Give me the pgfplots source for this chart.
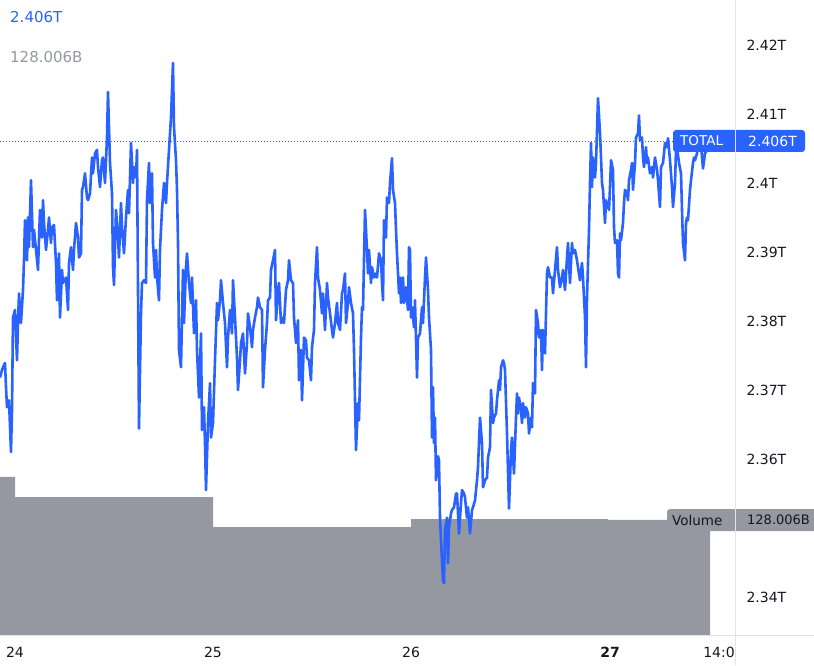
\documentclass[border=0pt]{standalone}
\usepackage{pgfplots}
\pgfplotsset{compat=1.18}
\usepackage{fontspec}
\setmainfont{DejaVu Sans}

\definecolor{tvblue}{HTML}{2962FF}
\definecolor{tvgray}{HTML}{9598A1}
\definecolor{tvtext}{HTML}{131722}
\definecolor{tvline}{HTML}{E0E3EB}

\begin{document}
\begin{tikzpicture}[x=1pt,y=1pt]
\path[use as bounding box] (0,0) rectangle (814,665);

% volume (B), one bar per day; x: chart time steps, 198 steps = 1 day
\begin{axis}[
    at={(0pt,30pt)}, anchor=south west,
    scale only axis, width=735pt, height=635pt,
    xmin=0, xmax=735, ymin=0, ymax=706.8,
    hide axis,
]
\addplot[fill=tvgray, draw=none, const plot] coordinates {
    (0,175.9) (15,153.6) (213,120.2) (411,129.1) (608,128.006) (710,128.006)
} \closedcycle;
\end{axis}

% TOTAL market cap, in B
\begin{axis}[
    at={(0pt,30pt)}, anchor=south west,
    scale only axis, width=735pt, height=635pt,
    xmin=0, xmax=735, ymin=2334.49, ymax=2426.52,
    axis line style={draw=none},
    major tick length=0pt,
    ytick={2340,2360,2370,2380,2390,2400,2410,2420},
    yticklabels={2.34T,2.36T,2.37T,2.38T,2.39T,2.4T,2.41T,2.42T},
    yticklabel pos=right,
    yticklabel style={xshift=8pt},
    xtick={15,213,411,610,723.5},
    xticklabels={24,25,26,\textbf{27},14:00},
    xticklabel style={yshift=-9pt},
    tick label style={font=\fontsize{14}{16}\selectfont, text=tvtext},
]
\addplot[tvblue, line width=0.9pt, dash pattern=on 1pt off 2pt] coordinates {(0,2406) (735,2406)};

\addplot[tvblue, line width=2.6pt, line join=round] coordinates {
(0,2371.8) (2,2372.9) (3,2373.3) (5,2373.9) (6,2370.4) (7,2367.5) (9,2368.5) (11,2361.0)
(12,2367.1) (13,2380.5) (15,2381.6) (17,2374.3) (18,2379.7) (19,2384.0) (21,2379.7) (23,2384.5)
(24,2388.8) (25,2394.6) (27,2388.8) (28,2395.0) (29,2390.7) (31,2400.4) (33,2390.7) (34,2393.2)
(36,2390.3) (38,2387.4) (40,2396.1) (42,2392.1) (43,2397.5) (44,2394.2) (46,2390.3) (48,2393.2)
(49,2395.0) (51,2391.3) (52,2393.6) (54,2393.9) (56,2388.4) (57,2383.0) (59,2389.8) (60,2380.5)
(62,2387.4) (63,2385.5) (66,2386.3) (68,2381.6) (69,2388.4) (71,2390.7) (73,2387.4) (74,2390.3)
(76,2394.2) (78,2392.1) (79,2389.2) (81,2389.8) (82,2399.0) (83,2399.4) (85,2401.4) (87,2397.9)
(88,2397.5) (90,2398.5) (92,2403.7) (93,2401.4) (95,2404.3) (97,2404.8) (98,2402.3) (100,2399.4)
(102,2403.3) (103,2403.7) (105,2400.0) (107,2406.6) (108,2413.2) (110,2402.9) (112,2398.5) (113,2387.8)
(114,2385.2) (116,2396.1) (118,2392.1) (119,2389.2) (121,2397.1) (122,2393.6) (124,2389.8) (126,2395.0)
(128,2399.0) (129,2395.6) (131,2405.8) (133,2400.0) (134,2402.3) (136,2400.8) (137,2404.8) (139,2364.4)
(141,2381.1) (142,2385.5) (144,2385.9) (146,2385.5) (147,2397.5) (149,2402.9) (150,2397.1) (152,2401.4)
(153,2391.3) (155,2386.3) (156,2390.3) (157,2386.3) (159,2383.0) (160,2390.3) (162,2396.1) (164,2400.0)
(166,2397.1) (167,2400.0) (169,2404.8) (171,2409.5) (173,2417.4) (174,2408.1) (176,2403.3) (177,2399.0)
(178,2391.3) (179,2375.8) (181,2373.3) (183,2387.4) (184,2379.7) (186,2387.8) (187,2389.8) (189,2385.5)
(191,2382.6) (192,2386.3) (194,2378.2) (196,2383.0) (197,2375.8) (199,2368.9) (201,2378.2) (202,2364.2)
(204,2367.5) (205,2362.3) (206,2355.5) (208,2365.2) (210,2371.0) (211,2363.1) (213,2365.2) (215,2374.3)
(217,2382.6) (218,2380.1) (220,2383.0) (221,2385.9) (223,2382.6) (225,2379.7) (227,2373.3) (228,2377.6)
(230,2381.6) (232,2378.2) (233,2385.9) (235,2380.5) (237,2374.7) (238,2370.0) (240,2374.3) (241,2376.8)
(243,2378.2) (245,2372.4) (247,2376.8) (248,2381.1) (250,2379.1) (252,2376.2) (253,2378.7) (255,2380.5)
(257,2382.0) (258,2383.4) (260,2382.0) (262,2381.6) (263,2370.4) (265,2375.8) (267,2379.7) (268,2383.0)
(270,2383.4) (271,2387.4) (273,2388.8) (275,2390.3) (276,2380.1) (278,2384.5) (279,2385.5) (281,2379.7)
(283,2380.5) (284,2379.7) (286,2384.5) (288,2385.9) (289,2388.8) (291,2385.9) (293,2385.5) (294,2380.5)
(296,2376.8) (298,2380.1) (299,2371.4) (301,2375.8) (302,2368.5) (304,2377.6) (306,2377.2) (307,2374.7)
(309,2374.3) (311,2371.4) (312,2376.2) (314,2378.7) (315,2385.5) (317,2390.7) (318,2386.3) (320,2384.5)
(322,2381.1) (323,2384.0) (325,2378.7) (327,2385.5) (328,2383.4) (330,2381.1) (332,2378.7) (333,2377.6)
(335,2379.7) (337,2382.6) (338,2379.7) (340,2378.7) (342,2384.0) (343,2384.5) (345,2386.9) (346,2379.7)
(348,2382.6) (349,2384.9) (351,2382.6) (353,2381.1) (354,2375.8) (356,2361.3) (358,2368.1) (359,2365.6)
(361,2377.6) (362,2382.0) (363,2381.6) (365,2396.1) (367,2390.3) (368,2386.9) (369,2390.3) (371,2385.5)
(372,2387.8) (374,2386.3) (376,2386.9) (377,2386.3) (379,2389.8) (381,2388.8) (382,2385.5) (383,2383.0)
(384,2394.6) (386,2392.1) (387,2397.9) (389,2397.1) (390,2400.0) (392,2403.6) (393,2399.0) (395,2397.1)
(396,2393.2) (397,2389.8) (399,2384.0) (400,2386.3) (401,2382.6) (403,2386.3) (404,2382.6) (406,2384.9)
(408,2381.6) (409,2390.7) (410,2390.3) (411,2380.5) (412,2382.0) (414,2379.1) (415,2383.0) (417,2371.8)
(418,2377.6) (420,2378.2) (422,2382.0) (423,2379.7) (425,2386.3) (426,2389.2) (428,2384.5) (429,2380.5)
(431,2375.8) (432,2363.1) (433,2370.4) (434,2362.3) (435,2366.0) (436,2356.9) (438,2360.4) (439,2359.8)
(440,2351.5) (441,2348.2) (443,2342.4) (444,2342.0) (445,2349.7) (447,2351.5) (448,2344.9) (449,2350.1)
(451,2352.1) (452,2352.6) (454,2353.0) (456,2355.0) (457,2355.0) (459,2349.2) (461,2353.6) (462,2355.5)
(464,2355.0) (465,2354.4) (467,2351.5) (468,2353.0) (470,2349.2) (472,2352.6) (473,2353.0) (475,2354.0)
(477,2356.9) (478,2358.8) (480,2366.0) (482,2362.3) (483,2355.9) (485,2356.9) (487,2357.3) (488,2360.2)
(490,2361.7) (491,2370.0) (493,2365.2) (494,2366.0) (496,2366.6) (497,2368.5) (499,2371.4) (500,2370.0)
(501,2373.3) (503,2374.3) (504,2373.9) (505,2372.9) (507,2363.7) (509,2352.8) (511,2361.3) (512,2363.1)
(514,2357.9) (516,2366.0) (517,2369.5) (518,2366.6) (519,2368.9) (521,2367.1) (522,2365.2) (523,2368.1)
(525,2366.0) (526,2367.5) (528,2366.6) (529,2363.7) (531,2366.0) (532,2364.6) (533,2371.0) (535,2369.5)
(536,2381.6) (538,2379.7) (539,2377.6) (541,2378.7) (542,2372.9) (543,2378.7) (545,2375.3) (547,2386.9)
(548,2387.8) (550,2386.3) (552,2386.3) (553,2384.0) (555,2387.4) (557,2390.7) (558,2387.4) (560,2384.9)
(562,2386.3) (563,2387.4) (565,2384.5) (567,2389.2) (568,2391.3) (570,2385.5) (572,2391.3) (573,2389.8)
(575,2390.3) (577,2388.8) (578,2387.8) (580,2385.9) (582,2388.4) (583,2386.3) (585,2380.5) (586,2373.3)
(587,2383.4) (589,2393.2) (590,2400.0) (591,2405.8) (592,2399.4) (593,2403.7) (595,2400.8) (596,2402.9)
(597,2407.6) (598,2412.3) (600,2407.2) (601,2403.7) (602,2400.0) (603,2399.0) (605,2394.2) (606,2397.5)
(607,2397.1) (609,2396.1) (610,2399.4) (611,2403.3) (613,2401.9) (614,2393.6) (615,2391.3) (617,2391.7)
(618,2386.9) (619,2386.3) (620,2392.7) (621,2391.7) (623,2394.2) (624,2397.1) (625,2399.0) (627,2398.5)
(628,2397.5) (629,2400.4) (631,2401.9) (632,2402.9) (633,2399.0) (635,2402.9) (636,2406.6) (638,2407.2)
(639,2409.8) (640,2406.2) (642,2406.6) (643,2403.7) (644,2402.3) (646,2405.2) (647,2402.9) (648,2403.7)
(650,2401.4) (652,2402.3) (653,2400.8) (655,2403.7) (657,2401.9) (658,2400.4) (660,2396.5) (661,2402.3)
(663,2402.9) (664,2404.3) (665,2405.8) (667,2405.2) (668,2406.5) (670,2403.3) (672,2399.4) (673,2396.5)
(675,2400.0) (676,2404.8) (677,2405.2) (679,2402.9) (681,2401.4) (682,2396.1) (683,2391.3) (685,2388.8)
(686,2394.2) (687,2395.0) (688,2394.6) (690,2399.0) (691,2400.4) (693,2402.9) (694,2403.7) (695,2403.3)
(697,2404.3) (698,2405.2) (699,2404.8) (701,2405.8) (702,2403.7) (703,2402.1) (705,2404.3) (706,2404.5)
(708,2405.5) (710,2406.0)
};
\end{axis}

% hide the part of the last time label that runs under the price scale
\fill[white] (735.5,0) rectangle (814,29.5);

% last value labels
\fill[tvblue, rounded corners=3pt] (673,513) rectangle (805,535);
\node[anchor=west, inner sep=0pt, text=white, font=\fontsize{13.5}{16}\selectfont] at (680,524) {TOTAL};
\node[anchor=west, inner sep=0pt, text=white, font=\fontsize{14}{16}\selectfont] at (748,524) {2.406T};
\fill[tvgray] (667,134) [rounded corners=3pt] -- (667,156) [sharp corners] -- (814,156) -- (814,134) [rounded corners=3pt] -- cycle;
\node[anchor=west, inner sep=0pt, text=tvtext, font=\fontsize{13.5}{16}\selectfont] at (672,145) {Volume};
\node[anchor=west, inner sep=0pt, text=tvtext, font=\fontsize{13}{16}\selectfont] at (747,145) {128.006B};

% legend values top left
\node[anchor=west, inner sep=0pt, text=tvblue, font=\fontsize{15}{18}\selectfont] at (10,648) {2.406T};
\node[anchor=west, inner sep=0pt, text=tvgray, font=\fontsize{15}{18}\selectfont] at (10,608) {128.006B};

% pane separators
\draw[tvline, line width=1pt] (735.5,0) -- (735.5,665);
\draw[tvline, line width=1pt] (0,29.5) -- (814,29.5);
\end{tikzpicture}
\end{document}
